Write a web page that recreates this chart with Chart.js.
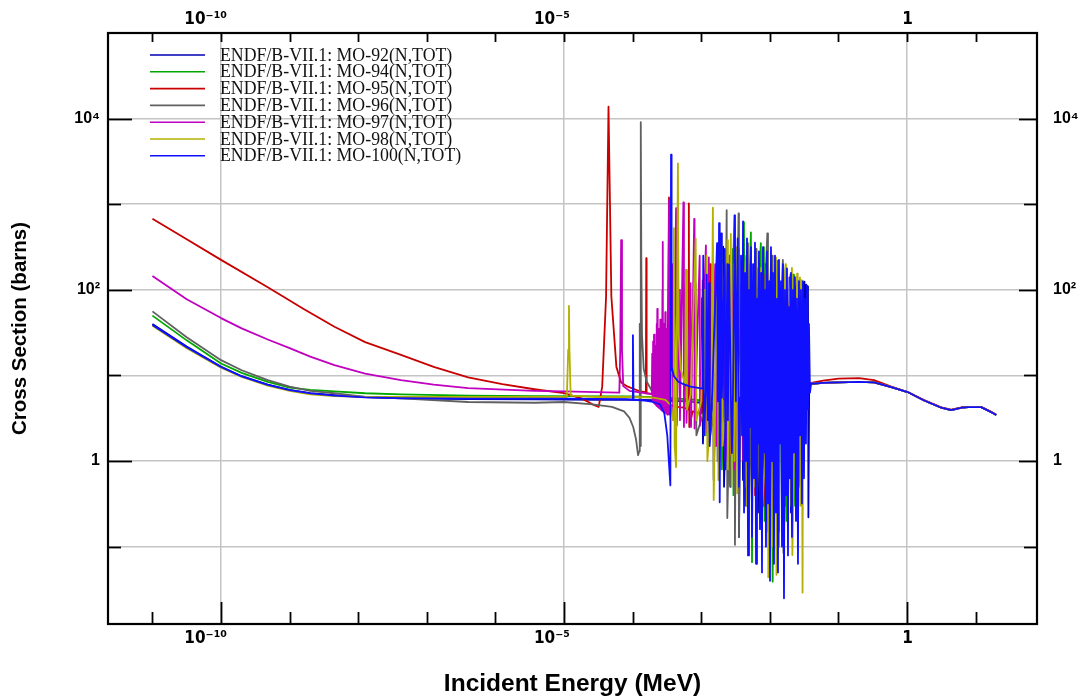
<!DOCTYPE html>
<html>
<head>
<meta charset="utf-8">
<title>Mo (N,TOT)</title>
<script src="https://cdn.jsdelivr.net/npm/chart.js@4.4.1/dist/chart.umd.min.js"></script>
<style>
    html, body { margin: 0; padding: 0; background: #fff; }
    #wrap { width: 1092px; height: 698px; }
</style>
</head>
<body>
<div id="wrap"><canvas id="myChart" width="1092" height="698"></canvas></div>
<script>
// =================== DATOS ===========================
// Etiquetas y colores de las series
const seriesLabels = [
    'ENDF/B-VII.1: MO-92(N,TOT)',
    'ENDF/B-VII.1: MO-94(N,TOT)',
    'ENDF/B-VII.1: MO-95(N,TOT)',
    'ENDF/B-VII.1: MO-96(N,TOT)',
    'ENDF/B-VII.1: MO-97(N,TOT)',
    'ENDF/B-VII.1: MO-98(N,TOT)',
    'ENDF/B-VII.1: MO-100(N,TOT)',
]
const seriesColors = ['#0000b4', '#00a800', '#c80000', '#606060', '#c000c0', '#b4b000', '#1010ff']

// Ticks de los ejes (energía en MeV, sección eficaz en barns)
const energyTicks = [1e-11, 1e-10, 1e-9, 1e-8, 1e-7, 1e-6, 1e-5, 1e-4, 1e-3, 1e-2, 1e-1, 1, 10]
const energyLabelValues = [1e-10, 1e-5, 1]
const energyLabels = ['10⁻¹⁰', '10⁻⁵', '1']
const xsTicks = [0.1, 1, 10, 100, 1000, 1e4]
const xsLabelValues = [1, 100, 1e4]
const xsLabels = ['1', '10²', '10⁴']
const energyRange = [2.25e-12, 78.5]
const xsRange = [0.0125, 1e5]

// Parte de alta energía (común)
const tailCommon = [
    [0.04, 8.0], [0.06, 8.2], [0.1, 8.3], [0.2, 8.4], [0.33, 8.3], [0.59, 7.3],
    [1.02, 6.4], [1.78, 5.1], [3.16, 4.2], [4.4, 3.94], [6.3, 4.2], [7.8, 4.27],
    [12, 4.27], [17, 3.72], [20, 3.45],
]
const tailMo95 = [
    [0.04, 8.2], [0.06, 8.7], [0.1, 9.2], [0.2, 9.3], [0.33, 8.8], [0.59, 7.4],
    [1.02, 6.4], [1.78, 5.15], [3.16, 4.25], [4.4, 4.0], [6.3, 4.25], [7.8, 4.3],
    [12, 4.3], [17, 3.75], [20, 3.5],
]

// [energía, sección eficaz] por isótopo
const mo92 = [
    [1e-11, 40], [3.16e-11, 21.8], [1e-10, 12.6], [2e-10, 9.8], [4.8e-10, 7.8], [1e-9, 6.8],
    [2e-9, 6.2], [4.5e-9, 5.9], [1.26e-8, 5.6], [4.2e-8, 5.4], [4e-7, 5.3], [3.7e-6, 5.25],
    [3e-5, 5.2], [1e-4, 5.2], [3e-4, 5.1], [6e-4, 5.0], [1e-3, 4.8], [1.03e-3, 80],
    [1.06e-3, 1.6], [1.1e-3, 4.8], [1.25e-3, 60], [1.27e-3, 2], [1.45e-3, 4.7], [1.48e-3, 200],
    [1.52e-3, 0.6], [1.6e-3, 4.5], [1.8e-3, 150], [1.83e-3, 1], [2.09e-3, 320], [2.15e-3, 0.5],
    [2.3e-3, 4.5], [2.6e-3, 250], [2.65e-3, 0.5], [3e-3, 180], [3.05e-3, 1], [3.45e-3, 300],
    [3.55e-3, 0.13], [3.7e-3, 4.5],
    [3.867e-3, 120], [4.067e-3, 0.6], [4.276e-3, 200], [4.497e-3, 0.3], [4.729e-3, 90], [4.973e-3, 1.2],
    [5.23e-3, 160], [5.5e-3, 0.4], [5.783e-3, 110], [6.082e-3, 0.9], [6.396e-3, 180], [6.726e-3, 0.25],
    [7.073e-3, 70], [7.438e-3, 1.5], [7.822e-3, 150], [8.226e-3, 0.5], [8.65e-3, 200], [9.097e-3, 0.2],
    [9.566e-3, 90], [1.006e-2, 1.0], [1.058e-2, 140], [1.112e-2, 0.35], [1.17e-2, 100], [1.23e-2, 0.8],
    [1.294e-2, 170], [1.36e-2, 0.15], [1.431e-2, 80], [1.505e-2, 1.3], [1.582e-2, 130], [1.664e-2, 0.3],
    [1.75e-2, 100], [1.84e-2, 0.6], [1.935e-2, 140], [2.035e-2, 0.25], [2.14e-2, 70], [2.251e-2, 1.0],
    [2.367e-2, 110], [2.489e-2, 0.5], [2.617e-2, 90], [2.752e-2, 1.5], [2.894e-2, 100], [2.95e-2, 6],
    [3.05e-2, 120], [3.1e-2, 8], [3.2e-2, 125], [3.3e-2, 10], [3.4e-2, 115], [3.5e-2, 7],
    [3.6e-2, 110], [3.65e-2, 0.22], [3.75e-2, 7.5],
]
const mo94 = [
    [1e-11, 50], [3.16e-11, 25.7], [1e-10, 13.8], [2e-10, 10.7], [4.8e-10, 8.4], [1e-9, 7.2],
    [2e-9, 6.8], [4.5e-9, 6.5], [1.26e-8, 6.2], [4.2e-8, 6.0], [4e-7, 5.8], [3.7e-6, 5.75],
    [1e-4, 5.7], [3e-4, 5.5], [6e-4, 5.3], [1.1e-3, 5.1], [1.14e-3, 90], [1.17e-3, 2],
    [1.25e-3, 5], [1.9e-3, 5], [1.95e-3, 260], [2e-3, 0.8], [2.1e-3, 5], [2.8e-3, 5],
    [2.9e-3, 300], [2.95e-3, 0.4], [3.1e-3, 5], [4.07e-3, 5], [4.2e-3, 617], [4.3e-3, 0.5],
    [4.5e-3, 5], [5.3e-3, 468], [5.5e-3, 0.066], [5.7e-3, 5], [7.4e-3, 350], [7.6e-3, 0.3],
    [8.2e-3, 316], [8.4e-3, 0.2], [8.8e-3, 5], [1.05e-2, 250], [1.1e-2, 0.039], [1.15e-2, 5],
    [1.3e-2, 220], [1.35e-2, 0.1], [1.4e-2, 5], [1.7e-2, 180], [1.75e-2, 0.2], [2.2e-2, 150],
    [2.25e-2, 0.3], [2.7e-2, 130], [2.8e-2, 0.6], [3e-2, 6],
]
const mo95 = [
    [1e-11, 676], [3.16e-11, 389], [1e-10, 224], [4.8e-10, 107], [1.58e-9, 60], [4.5e-9, 37],
    [1.26e-8, 24.5], [4.2e-8, 17.4], [1.26e-7, 12.6], [4e-7, 9.5], [1.26e-6, 7.9], [3.7e-6, 6.9],
    [1e-5, 6.2], [1.8e-5, 5.4], [2.6e-5, 4.6], [3.2e-5, 4.3], [3.6e-5, 7.4], [4.1e-5, 83],
    [4.45e-5, 13800], [4.9e-5, 83], [5.8e-5, 12.6], [6.8e-5, 8.3], [8.5e-5, 7.4], [1.3e-4, 6.5],
    [1.56e-4, 6.4], [1.58e-4, 234], [1.6e-4, 6.2], [2.2e-4, 5.9], [3.2e-4, 5.4], [3.39e-4, 1200],
    [3.45e-4, 4.5], [4.5e-4, 4.3], [5.5e-4, 4.2], [6.5e-4, 4], [6.6e-4, 1020], [6.7e-4, 2.5],
    [7.5e-4, 3.8], [1e-3, 3.6], [1.05e-3, 129], [1.08e-3, 3.0], [1.3e-3, 3.4], [1.35e-3, 200],
    [1.38e-3, 2.5], [1.7e-3, 3.5], [1.95e-3, 155], [2e-3, 2.0], [2.4e-3, 3.0], [2.6e-3, 250],
    [2.65e-3, 1.2], [3.3e-3, 4], [3.45e-3, 200], [3.5e-3, 1], [4.5e-3, 150], [4.6e-3, 0.5],
    [6e-3, 180], [6.1e-3, 0.4], [8e-3, 150], [8.1e-3, 0.3], [1.1e-2, 140], [1.12e-2, 0.3],
    [1.5e-2, 120], [1.52e-2, 0.5], [2e-2, 110], [2.05e-2, 0.8], [2.6e-2, 100], [2.65e-2, 1.2],
    [3e-2, 7],
]
const mo96 = [
    [1e-11, 56], [3.16e-11, 28], [1e-10, 15.1], [2e-10, 11.5], [4.8e-10, 8.8], [1e-9, 7.4],
    [2e-9, 6.6], [4.5e-9, 6.2], [1.26e-8, 5.6], [4.2e-8, 5.4], [4e-7, 4.9], [3.7e-6, 4.8],
    [1e-5, 4.9], [2.6e-5, 4.6], [5e-5, 4.3], [7.5e-5, 3.8], [9e-5, 3.2], [1.02e-4, 2.5],
    [1.12e-4, 1.8], [1.2e-4, 1.17], [1.25e-4, 1.3], [1.27e-4, 40], [1.29e-4, 1.5], [1.31e-4, 50],
    [1.32e-4, 9100], [1.34e-4, 200], [1.37e-4, 30], [1.45e-4, 12], [1.6e-4, 8.5], [2e-4, 6.2],
    [2.8e-4, 5.4], [4e-4, 5.2], [6e-4, 5.0], [8e-4, 4.9], [8.3e-4, 120], [8.5e-4, 2],
    [1.2e-3, 4.8], [1.25e-3, 150], [1.28e-3, 1.5], [1.6e-3, 4.7], [1.7e-3, 200], [1.73e-3, 1.0],
    [2.2e-3, 4.6], [2.35e-3, 851], [2.4e-3, 0.216], [2.6e-3, 4.5], [3.05e-3, 741], [3.1e-3, 0.105],
    [3.2e-3, 4.5], [3.5e-3, 780], [3.55e-3, 0.13], [3.7e-3, 4.5], [4.8e-3, 350], [4.9e-3, 0.2],
    [6.3e-3, 300], [6.4e-3, 0.3], [9.2e-3, 457], [9.4e-3, 0.15], [1.1e-2, 250], [1.12e-2, 0.4],
    [1.55e-2, 224], [1.58e-2, 0.085], [2e-2, 150], [2.05e-2, 0.3], [2.6e-2, 120], [2.65e-2, 0.5],
    [3e-2, 6.5],
]
const mo97 = [
    [1e-11, 145], [3.16e-11, 77.6], [1e-10, 46.8], [2e-10, 35.5], [4.8e-10, 26.3], [1e-9, 20.9],
    [2e-9, 16.6], [4.5e-9, 13.2], [1.26e-8, 10.5], [4.2e-8, 8.8], [1.26e-7, 7.8], [4e-7, 7.1],
    [3.7e-6, 6.6], [1e-5, 6.5], [3e-5, 6.4], [6.4e-5, 6.3], [6.6e-5, 20], [6.8e-5, 380],
    [7e-5, 20], [7.3e-5, 7.5], [9e-5, 6.6], [1.5e-4, 6.2],
    [1.9e-4, 6.1], [1.93e-4, 18], [1.96e-4, 5.0], [1.99e-4, 25], [2.02e-4, 4.8], [2.05e-4, 30],
    [2.08e-4, 4.7], [2.11e-4, 15], [2.14e-4, 4.6], [2.17e-4, 22], [2.2e-4, 4.5], [2.23e-4, 40],
    [2.26e-4, 4.4], [2.29e-4, 60], [2.32e-4, 4.3], [2.35e-4, 20], [2.38e-4, 4.2], [2.41e-4, 35],
    [2.44e-4, 4.2], [2.47e-4, 28], [2.5e-4, 4.1], [2.53e-4, 45], [2.56e-4, 4.0], [2.59e-4, 18],
    [2.62e-4, 4.0], [2.65e-4, 30], [2.68e-4, 3.9], [2.72e-4, 100], [2.75e-4, 363], [2.78e-4, 3.9],
    [2.81e-4, 25], [2.84e-4, 3.8], [2.87e-4, 40], [2.9e-4, 3.8], [2.93e-4, 20], [2.96e-4, 3.7],
    [2.99e-4, 55], [3.02e-4, 3.7], [3.05e-4, 30], [3.08e-4, 3.6], [3.11e-4, 22], [3.14e-4, 3.6],
    [3.17e-4, 35], [3.2e-4, 3.5], [3.24e-4, 18], [3.28e-4, 3.5],
    [3.4e-4, 1100], [3.45e-4, 3.5], [3.8e-4, 200], [3.9e-4, 3.0], [4.3e-4, 900], [4.4e-4, 2.6],
    [4.8e-4, 100], [4.9e-4, 3], [5.5e-4, 1050], [5.6e-4, 2.5], [6e-4, 170], [6.1e-4, 2.8],
    [7e-4, 120], [7.1e-4, 2.5], [7.9e-4, 676], [8e-4, 2.4], [9.5e-4, 250], [9.6e-4, 2.6],
    [1.17e-3, 330], [1.2e-3, 2.2], [1.29e-3, 240], [1.32e-3, 3], [1.6e-3, 200], [1.65e-3, 1.5],
    [2.2e-3, 150], [2.25e-3, 1], [3e-3, 120], [3.05e-3, 0.8], [4e-3, 100], [4.1e-3, 1],
    [6e-3, 90], [6.1e-3, 1], [9e-3, 80], [9.2e-3, 1.5], [1.4e-2, 70], [1.42e-2, 2],
    [2e-2, 50], [2.1e-2, 3], [3e-2, 7],
]
const mo98 = [
    [1e-11, 38], [3.16e-11, 20.8], [1e-10, 12.3], [2e-10, 9.6], [4.8e-10, 7.6], [1e-9, 6.6],
    [2e-9, 6.0], [4.5e-9, 5.75], [1.26e-8, 5.62], [4.2e-8, 5.6], [4e-7, 5.6], [3.7e-6, 5.6],
    [1.1e-5, 5.6], [1.15e-5, 20], [1.18e-5, 65], [1.2e-5, 20], [1.25e-5, 5.8], [3e-5, 5.6],
    [1e-4, 5.6], [2e-4, 5.5], [3e-4, 5.2], [3.6e-4, 4.5], [3.9e-4, 3.0], [4e-4, 525],
    [4.1e-4, 1.5], [4.3e-4, 0.85], [4.57e-4, 3000], [4.7e-4, 30], [5e-4, 12], [5.8e-4, 8],
    [6e-4, 170], [6.2e-4, 4], [7e-4, 6], [8.3e-4, 400], [8.5e-4, 3], [1e-3, 5],
    [1.1e-3, 100], [1.12e-3, 2], [1.2e-3, 250], [1.23e-3, 1], [1.4e-3, 5], [1.48e-3, 912],
    [1.52e-3, 0.35], [1.6e-3, 5], [1.75e-3, 300], [1.78e-3, 0.6], [2e-3, 200], [2.05e-3, 1.5],
    [2.3e-3, 5], [2.4e-3, 380], [2.45e-3, 0.8], [2.7e-3, 450], [2.75e-3, 0.5], [3e-3, 200],
    [3.05e-3, 1], [3.3e-3, 316], [3.35e-3, 0.42], [3.5e-3, 5], [4.5e-3, 250], [4.6e-3, 0.3],
    [6e-3, 200], [6.1e-3, 0.5], [7.5e-3, 180], [7.6e-3, 0.2], [9.4e-3, 5], [9.5e-3, 0.044],
    [9.7e-3, 5], [1.1e-2, 150], [1.12e-2, 0.1], [1.23e-2, 240], [1.25e-2, 0.047], [1.3e-2, 5],
    [1.7e-2, 200], [1.72e-2, 0.4], [2.1e-2, 180], [2.13e-2, 0.08], [2.5e-2, 155], [2.55e-2, 0.5],
    [2.75e-2, 140], [2.8e-2, 0.3], [2.9e-2, 130], [3e-2, 0.029], [3.05e-2, 6],
]
const mo100 = [
    [1e-11, 38.9], [3.16e-11, 21.4], [1e-10, 12.6], [2e-10, 9.77], [4.8e-10, 7.76], [1e-9, 6.76],
    [2e-9, 6.17], [4.5e-9, 5.82], [1.26e-8, 5.56], [4.2e-8, 5.43], [4e-7, 5.37], [3.7e-6, 5.37],
    [1e-5, 5.37], [8e-5, 5.3], [9.9e-5, 5.2], [1.01e-4, 29.5], [1.03e-4, 5.2], [1.5e-4, 5.1],
    [2e-4, 4.9], [2.5e-4, 4.6], [2.9e-4, 3.6], [3.2e-4, 2.0], [3.4e-4, 0.9], [3.55e-4, 0.52],
    [3.63e-4, 3800], [3.7e-4, 12.6], [4e-4, 9.8], [4.6e-4, 8.5], [5.5e-4, 7.9], [7e-4, 7.4],
    [1.05e-3, 7.0], [1.07e-3, 250], [1.1e-3, 2], [1.17e-3, 6.8], [1.2e-3, 150], [1.25e-3, 3],
    [1.3e-3, 120], [1.33e-3, 1.5], [1.45e-3, 6.5], [1.7e-3, 350], [1.75e-3, 5], [1.82e-3, 600],
    [1.86e-3, 0.33], [1.95e-3, 455], [2e-3, 5.5], [2.2e-3, 300], [2.25e-3, 0.8], [2.4e-3, 200],
    [2.45e-3, 3], [2.55e-3, 195], [2.7e-3, 6], [2.8e-3, 1.24], [2.9e-3, 6], [3.09e-3, 741],
    [3.2e-3, 5], [3.4e-3, 400], [3.55e-3, 0.5], [3.7e-3, 5.5],
    [3.8e-3, 251], [3.93e-3, 2.0], [4.07e-3, 631], [4.21e-3, 0.25], [4.35e-3, 158], [4.5e-3, 1.0],
    [4.65e-3, 398], [4.81e-3, 0.079], [4.97e-3, 100], [5.14e-3, 2.5], [5.32e-3, 316], [5.5e-3, 0.13],
    [5.69e-3, 200], [5.88e-3, 0.63], [6.08e-3, 355], [6.29e-3, 0.063], [6.5e-3, 79], [6.72e-3, 1.6],
    [6.95e-3, 282], [7.19e-3, 0.16], [7.44e-3, 158], [7.69e-3, 0.05], [7.95e-3, 316], [8.22e-3, 1.26],
    [8.5e-3, 100], [8.79e-3, 0.1], [9.09e-3, 282], [9.4e-3, 0.32], [9.73e-3, 126], [1.006e-2, 0.04],
    [1.04e-2, 316], [1.076e-2, 1.0], [1.112e-2, 158], [1.15e-2, 0.063], [1.189e-2, 251], [1.23e-2, 0.25],
    [1.272e-2, 79], [1.315e-2, 0.05], [1.36e-2, 224], [1.407e-2, 1.6], [1.455e-2, 126], [1.504e-2, 0.1],
    [1.555e-2, 200], [1.609e-2, 0.025], [1.663e-2, 100], [1.72e-2, 0.4], [1.779e-2, 178], [1.84e-2, 0.079],
    [1.902e-2, 63], [1.967e-2, 0.63], [2.034e-2, 158], [2.104e-2, 0.13], [2.175e-2, 100], [2.25e-2, 1.26],
    [2.326e-2, 141], [2.406e-2, 0.2], [2.488e-2, 79], [2.573e-2, 0.063], [2.66e-2, 126], [2.751e-2, 2.0],
    [2.845e-2, 100], [2.942e-2, 0.32], [3.042e-2, 126], [3.146e-2, 0.63], [3.254e-2, 79], [3.365e-2, 1.6],
    [3.479e-2, 112], [3.598e-2, 4.0], [3.721e-2, 40], [3.848e-2, 6.3],
]

const seriesData = [
    mo92.concat(tailCommon),
    mo94.concat(tailCommon),
    mo95.concat(tailMo95),
    mo96.concat(tailCommon),
    mo97.concat(tailCommon),
    mo98.concat(tailCommon),
    mo100.concat(tailCommon),
]

const FONT_SANS = '"Liberation Sans", Arial, Helvetica, sans-serif'
const FONT_EXP = '"DejaVu Sans Condensed", "DejaVu Sans", sans-serif'
const FONT_SERIF = '"Liberation Serif", "Times New Roman", serif'

// Devuelve la etiqueta si el valor es uno de los marcados
function labelFor(value, values, labels) {
    const idx = values.findIndex(v => Math.abs(Math.log10(v) - Math.log10(value)) < 1e-6)
    return idx >= 0 ? labels[idx] : ''
}

document.addEventListener('DOMContentLoaded', () => {
    const ctx = document.getElementById('myChart')

    // Marco y ticks hacia dentro, más la leyenda
    const frameAndLegend = {
        id: 'frameAndLegend',
        afterDraw(chart) {
            const c = chart.ctx
            const a = chart.chartArea
            const { x, y } = chart.scales
            c.save()
            c.strokeStyle = '#000'
            c.lineWidth = 1.8

            const seg = (x1, y1, x2, y2) => {
                c.beginPath()
                c.moveTo(x1, y1)
                c.lineTo(x2, y2)
                c.stroke()
            }

            x.ticks.forEach(t => {
                const px = Math.round(x.getPixelForValue(t.value)) + 0.5
                const major = labelFor(t.value, energyLabelValues, energyLabels) !== ''
                seg(px, a.bottom, px, a.bottom - (major ? 22 : 12))
                seg(px, a.top, px, a.top + 9)
            })
            y.ticks.forEach(t => {
                const py = Math.round(y.getPixelForValue(t.value)) + 0.5
                const major = labelFor(t.value, xsLabelValues, xsLabels) !== ''
                seg(a.left, py, a.left + (major ? 24 : 13), py)
                seg(a.right, py, a.right - (major ? 18 : 13), py)
            })

            c.lineWidth = 2.2
            c.strokeRect(a.left, a.top, a.right - a.left, a.bottom - a.top)

            // Leyenda
            c.font = `17.8px ${FONT_SERIF}`
            c.textBaseline = 'middle'
            c.textAlign = 'left'
            chart.data.datasets.forEach((ds, i) => {
                const ly = a.top + 22 + i * 16.8
                c.strokeStyle = ds.borderColor
                c.lineWidth = 1.6
                seg(a.left + 42, ly, a.left + 97, ly)
                c.fillStyle = '#111'
                c.fillText(ds.label, a.left + 112, ly + 1)
            })
            c.restore()
        },
    }

    const energyScale = (position, showGrid, height) => ({
        type: 'logarithmic',
        position,
        min: energyRange[0],
        max: energyRange[1],
        bounds: 'data',
        afterBuildTicks: scale => {
            scale.ticks = energyTicks.map(v => ({ value: v }))
        },
        afterFit: scale => {
            scale.height = height
        },
        border: { display: false },
        grid: {
            drawOnChartArea: showGrid,
            drawTicks: false,
            lineWidth: 1.5,
            color: c => (c.tick && labelFor(c.tick.value, energyLabelValues, energyLabels) !== '' ? '#c4c4c4' : 'rgba(0,0,0,0)'),
        },
        ticks: {
            autoSkip: false,
            maxRotation: 0,
            minRotation: 0,
            align: 'end',
            labelOffset: 6,
            padding: position === 'bottom' ? 4 : 3,
            color: '#000',
            font: { family: FONT_EXP, size: 17, weight: 'bold' },
            callback: value => labelFor(value, energyLabelValues, energyLabels),
        },
    })

    const xsScale = (position, showGrid, width) => ({
        type: 'logarithmic',
        position,
        min: xsRange[0],
        max: xsRange[1],
        bounds: 'data',
        afterBuildTicks: scale => {
            scale.ticks = xsTicks.map(v => ({ value: v }))
        },
        afterFit: scale => {
            scale.width = width
        },
        border: { display: false },
        grid: {
            drawOnChartArea: showGrid,
            drawTicks: false,
            lineWidth: 1.5,
            color: '#c4c4c4',
        },
        ticks: {
            autoSkip: false,
            padding: position === 'left' ? 8 : 16,
            color: '#000',
            font: { family: FONT_SANS, size: 16, weight: 'bold' },
            callback: value => labelFor(value, xsLabelValues, xsLabels),
        },
    })

    const x = energyScale('bottom', true, 74)
    x.title = {
        display: true,
        text: 'Incident Energy (MeV)',
        color: '#000',
        font: { family: FONT_SANS, size: 24.5, weight: 'bold', lineHeight: 1 },
        padding: { top: 0, bottom: 2 },
    }
    const y = xsScale('left', true, 108)
    y.title = {
        display: true,
        text: 'Cross Section (barns)',
        color: '#000',
        font: { family: FONT_SANS, size: 20.5, weight: 'bold', lineHeight: 1 },
        padding: { top: 10, bottom: 0 },
    }

    // eslint-disable-next-line no-new, no-undef
    new Chart(ctx, {
        type: 'line',
        data: {
            datasets: seriesData.map((data, i) => ({
                label: seriesLabels[i],
                data,
                borderColor: seriesColors[i],
                backgroundColor: seriesColors[i],
                borderWidth: 1.8,
                pointRadius: 0,
                pointHitRadius: 0,
                tension: 0,
                fill: false,
                borderJoinStyle: 'round',
                order: seriesData.length - 1 - i,
            })),
        },
        options: {
            responsive: false,
            animation: false,
            devicePixelRatio: 1,
            layout: { padding: 0 },
            plugins: {
                legend: { display: false },
                tooltip: { enabled: false },
            },
            scales: {
                x,
                x2: energyScale('top', false, 33),
                y,
                y2: xsScale('right', false, 55),
            },
        },
        plugins: [frameAndLegend],
    })
})
</script>
</body>
</html>
